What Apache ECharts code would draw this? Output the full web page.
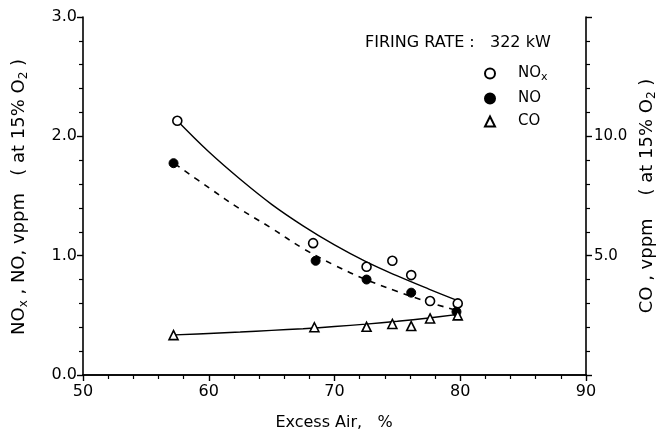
<!DOCTYPE html>
<html>
<head>
<meta charset="utf-8">
<script src="https://cdn.jsdelivr.net/npm/echarts@6/dist/echarts.min.js"></script>
<style>html,body{margin:0;padding:0;background:#fff}#c{width:658px;height:434px}</style>
</head>
<body>
<div id="c"></div>
<script>
// Measured points
const excessAirNOx = [57.5, 68.3, 72.55, 74.6, 76.1, 77.6, 79.8];
const noxValues    = [2.13, 1.105, 0.907, 0.957, 0.837, 0.62, 0.60];
const excessAirNO  = [57.2, 68.5, 72.55, 76.1, 79.7];
const noValues     = [1.775, 0.957, 0.80, 0.69, 0.53];
const excessAirCO  = [57.2, 68.4, 72.55, 74.6, 76.1, 77.6, 79.8];
const coValues     = [1.67, 2.0, 2.02, 2.14, 2.05, 2.37, 2.5];
// Fitted curves
const noxFitX = [57.5, 60, 62.5, 65, 67.5, 70, 72.5, 75, 77.5, 80];
const noxFitY = [2.13, 1.87, 1.64, 1.43, 1.25, 1.09, 0.95, 0.83, 0.72, 0.615];
const noFitX  = [57.3, 60, 62.5, 65, 67.5, 70, 72.5, 75, 77.5, 79.6];
const noFitY  = [1.77, 1.57, 1.39, 1.23, 1.06, 0.92, 0.80, 0.70, 0.61, 0.545];
const coFitX  = [57.3, 60, 62.5, 65, 67.5, 70, 72.5, 75, 77.5, 80];
const coFitY  = [1.68, 1.74, 1.80, 1.87, 1.94, 2.03, 2.13, 2.25, 2.39, 2.55];
// Axis labels
const rightTickLabels = ['5.0', '10.0'];
const legendNames = ['NOx', 'NO', 'CO'];
const firingRateText = 'FIRING RATE :   322 kW';

const zip = (xs, ys) => xs.map((x, i) => [x, ys[i]]);
const FONT = 'DejaVu Sans';
const chart = echarts.init(document.getElementById('c'), null, {renderer: 'canvas'});

const sub = {
  a: {fontSize: 18, fontFamily: FONT, color: '#000'},
  s: {fontSize: 12, fontFamily: FONT, color: '#000', padding: [10, 0, 0, 0]}
};

chart.setOption({
  animation: false,
  backgroundColor: '#fff',
  grid: {left: 83, right: 72, top: 17, bottom: 59, containLabel: false},
  legend: {
    data: legendNames,
    orient: 'vertical',
    left: 479,
    top: 61,
    itemWidth: 10,
    itemHeight: 10,
    itemGap: 8,
    textStyle: {fontFamily: FONT, fontSize: 15, color: '#000', padding: [0, 0, 0, 18],
      rich: {a: {fontSize: 15, fontFamily: FONT, color: '#000'}, s: {fontSize: 11, fontFamily: FONT, color: '#000', padding: [8, 0, 0, 0]}}},
    formatter: n => n === 'NOx' ? '{a|NO}{s|x}' : '{a|' + n + '}'
  },
  xAxis: [{
    type: 'value', min: 50, max: 90, interval: 10, position: 'bottom',
    axisLine: {lineStyle: {color: '#000', width: 1.6}},
    axisTick: {inside: false, length: 6, lineStyle: {color: '#000', width: 1.4}},
    minorTick: {show: true, splitNumber: 5, length: 4, lineStyle: {color: '#000', width: 1.2}},
    axisLabel: {fontFamily: FONT, fontSize: 16, color: '#000', margin: 9},
    splitLine: {show: false}
  }, {
    type: 'value', min: 50, max: 90, position: 'top',
    axisLine: {show: true, lineStyle: {color: '#000', width: 1.6}},
    axisTick: {show: false}, axisLabel: {show: false}, splitLine: {show: false}
  }],
  yAxis: [{
    type: 'value', min: 0, max: 3, interval: 1, position: 'left',
    axisLine: {show: true, lineStyle: {color: '#000', width: 1.6}},
    axisTick: {inside: false, length: 6, lineStyle: {color: '#000', width: 1.4}},
    minorTick: {show: true, splitNumber: 5, length: 4, lineStyle: {color: '#000', width: 1.2}},
    axisLabel: {fontFamily: FONT, fontSize: 16, color: '#000', margin: 6, formatter: v => v.toFixed(1)},
    splitLine: {show: false}
  }, {
    type: 'value', min: 0, max: 15, interval: 5, position: 'right',
    axisLine: {show: true, lineStyle: {color: '#000', width: 1.6}},
    axisTick: {inside: false, length: 6, lineStyle: {color: '#000', width: 1.4}},
    minorTick: {show: true, splitNumber: 5, length: 4, lineStyle: {color: '#000', width: 1.2}},
    axisLabel: {fontFamily: FONT, fontSize: 15, color: '#000', margin: 8,
      formatter: v => { const s = v.toFixed(1); return rightTickLabels.includes(s) ? s : ''; }},
    splitLine: {show: false}
  }],
  graphic: [
    {type: 'text', x: 365, y: 43, style: {text: firingRateText, font: '16px "DejaVu Sans"', fill: '#000', align: 'left', verticalAlign: 'middle'}},
    {type: 'text', x: 334, y: 423, style: {text: 'Excess Air,   %', font: '16px "DejaVu Sans"', fill: '#000', align: 'center', verticalAlign: 'middle'}},
    {type: 'text', x: 19, y: 197, rotation: Math.PI / 2,
      style: {text: '{a|NO}{s|x}{a| , NO, vppm   ( at 15% O}{s|2}{a| )}', rich: sub, align: 'center', verticalAlign: 'middle'}},
    {type: 'text', x: 647, y: 196, rotation: Math.PI / 2,
      style: {text: '{a|CO , vppm    ( at 15% O}{s|2}{a| )}', rich: sub, align: 'center', verticalAlign: 'middle'}}
  ],
  series: [
    {type: 'line', name: 'NOx fit', data: zip(noxFitX, noxFitY), smooth: 0.4, symbol: 'none',
      lineStyle: {color: '#000', width: 1.4}, z: 2, silent: true},
    {type: 'line', name: 'NO fit', data: zip(noFitX, noFitY), smooth: 0.4, symbol: 'none',
      lineStyle: {color: '#000', width: 1.6, type: [6, 6]}, z: 2, silent: true},
    {type: 'line', name: 'CO fit', yAxisIndex: 1, data: zip(coFitX, coFitY), smooth: 0.4, symbol: 'none',
      lineStyle: {color: '#000', width: 1.4}, z: 2, silent: true},
    {type: 'scatter', name: 'NOx', data: zip(excessAirNOx, noxValues), symbol: 'circle', symbolSize: 9,
      itemStyle: {color: '#fff', borderColor: '#000', borderWidth: 1.6, opacity: 1}, z: 5},
    {type: 'scatter', name: 'NO', data: zip(excessAirNO, noValues), symbol: 'circle', symbolSize: 9,
      itemStyle: {color: '#000', borderColor: '#000', borderWidth: 1, opacity: 1}, z: 5},
    {type: 'scatter', name: 'CO', yAxisIndex: 1, data: zip(excessAirCO, coValues), symbol: 'triangle', symbolSize: 9,
      itemStyle: {color: '#fff', borderColor: '#000', borderWidth: 1.6, opacity: 1}, z: 5}
  ]
});
</script>
</body>
</html>
